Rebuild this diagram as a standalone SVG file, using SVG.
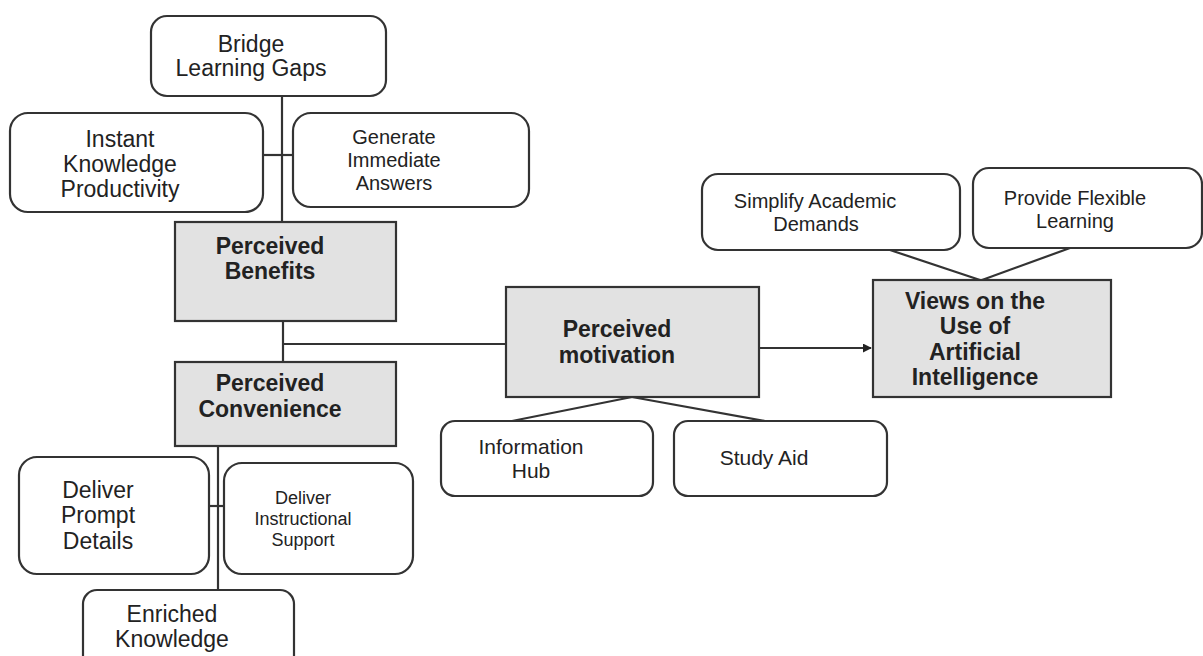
<svg xmlns="http://www.w3.org/2000/svg" width="1203" height="656" viewBox="0 0 1203 656">
<style>
.rb{fill:#fff;stroke:#333;stroke-width:2.2}
.gb{fill:#e2e2e2;stroke:#333;stroke-width:2.2}
.ln{fill:none;stroke:#333;stroke-width:2.2}
text{font-family:"Liberation Sans",Arial,sans-serif;fill:#222;text-anchor:middle}
.t{font-size:23px}
.s{font-size:20px}
.b{font-size:23px;font-weight:bold}
</style>
<defs>
<marker id="ah" viewBox="0 0 10 10" refX="9" refY="5" markerWidth="9" markerHeight="9" markerUnits="userSpaceOnUse" orient="auto">
<path d="M0,0 L10,5 L0,10 z" fill="#222"/>
</marker>
</defs>
<g id="connectors">
<line class="ln" x1="282" y1="96" x2="282" y2="222"/>
<line class="ln" x1="263" y1="155" x2="293" y2="155"/>
<line class="ln" x1="283" y1="321" x2="283" y2="362"/>
<line class="ln" x1="283" y1="344" x2="506" y2="344"/>
<line class="ln" x1="218" y1="446" x2="218" y2="590"/>
<line class="ln" x1="209" y1="506" x2="224" y2="506"/>
<line class="ln" x1="759" y1="348" x2="871" y2="348" marker-end="url(#ah)"/>
<line class="ln" x1="890" y1="250" x2="980" y2="280"/>
<line class="ln" x1="1070" y1="248" x2="982" y2="280"/>
<line class="ln" x1="632" y1="397" x2="512" y2="421"/>
<line class="ln" x1="632" y1="397" x2="765" y2="421"/>
</g>
<g id="bridge">
<rect class="rb" x="151" y="16" width="235" height="80" rx="16"/>
<text class="t" x="251" y="52">Bridge</text>
<text class="t" x="251" y="76">Learning Gaps</text>
</g>
<g id="instant">
<rect class="rb" x="10" y="113" width="253" height="99" rx="18"/>
<text class="t" x="120" y="147">Instant</text>
<text class="t" x="120" y="172">Knowledge</text>
<text class="t" x="120" y="197">Productivity</text>
</g>
<g id="generate">
<rect class="rb" x="293" y="113" width="236" height="94" rx="18"/>
<text class="s" x="394" y="144">Generate</text>
<text class="s" x="394" y="167">Immediate</text>
<text class="s" x="394" y="190">Answers</text>
</g>
<g id="benefits">
<rect class="gb" x="175" y="222" width="221" height="99"/>
<text class="b" x="270" y="254">Perceived</text>
<text class="b" x="270" y="279">Benefits</text>
</g>
<g id="convenience">
<rect class="gb" x="175" y="362" width="221" height="84"/>
<text class="b" x="270" y="391">Perceived</text>
<text class="b" x="270" y="417">Convenience</text>
</g>
<g id="prompt">
<rect class="rb" x="19" y="457" width="190" height="117" rx="18"/>
<text class="t" x="98" y="498">Deliver</text>
<text class="t" x="98" y="523">Prompt</text>
<text class="t" x="98" y="549">Details</text>
</g>
<g id="instructional">
<rect class="rb" x="224" y="463" width="189" height="111" rx="18"/>
<text x="303" y="504" style="font-size:18px">Deliver</text>
<text x="303" y="525" style="font-size:18px">Instructional</text>
<text x="303" y="546" style="font-size:18px">Support</text>
</g>
<g id="enriched">
<rect class="rb" x="83" y="590" width="211" height="80" rx="14"/>
<text class="t" x="172" y="622">Enriched</text>
<text class="t" x="172" y="647">Knowledge</text>
</g>
<g id="motivation">
<rect class="gb" x="506" y="287" width="253" height="110"/>
<text class="b" x="617" y="337">Perceived</text>
<text class="b" x="617" y="363">motivation</text>
</g>
<g id="views">
<rect class="gb" x="873" y="280" width="238" height="117"/>
<text class="b" x="975" y="309">Views on the</text>
<text class="b" x="975" y="334">Use of</text>
<text class="b" x="975" y="360">Artificial</text>
<text class="b" x="975" y="385">Intelligence</text>
</g>
<g id="simplify">
<rect class="rb" x="702" y="174" width="258" height="76" rx="16"/>
<text class="s" x="815" y="208">Simplify Academic</text>
<text class="s" x="816" y="231">Demands</text>
</g>
<g id="provide">
<rect class="rb" x="973" y="168" width="229" height="80" rx="16"/>
<text class="s" x="1075" y="205">Provide Flexible</text>
<text class="s" x="1075" y="228">Learning</text>
</g>
<g id="infohub">
<rect class="rb" x="441" y="421" width="212" height="75" rx="14"/>
<text class="s" x="531" y="454" style="font-size:21px">Information</text>
<text class="s" x="531" y="478" style="font-size:21px">Hub</text>
</g>
<g id="studyaid">
<rect class="rb" x="674" y="421" width="213" height="75" rx="14"/>
<text class="s" x="764" y="465" style="font-size:21px">Study Aid</text>
</g>
</svg>
